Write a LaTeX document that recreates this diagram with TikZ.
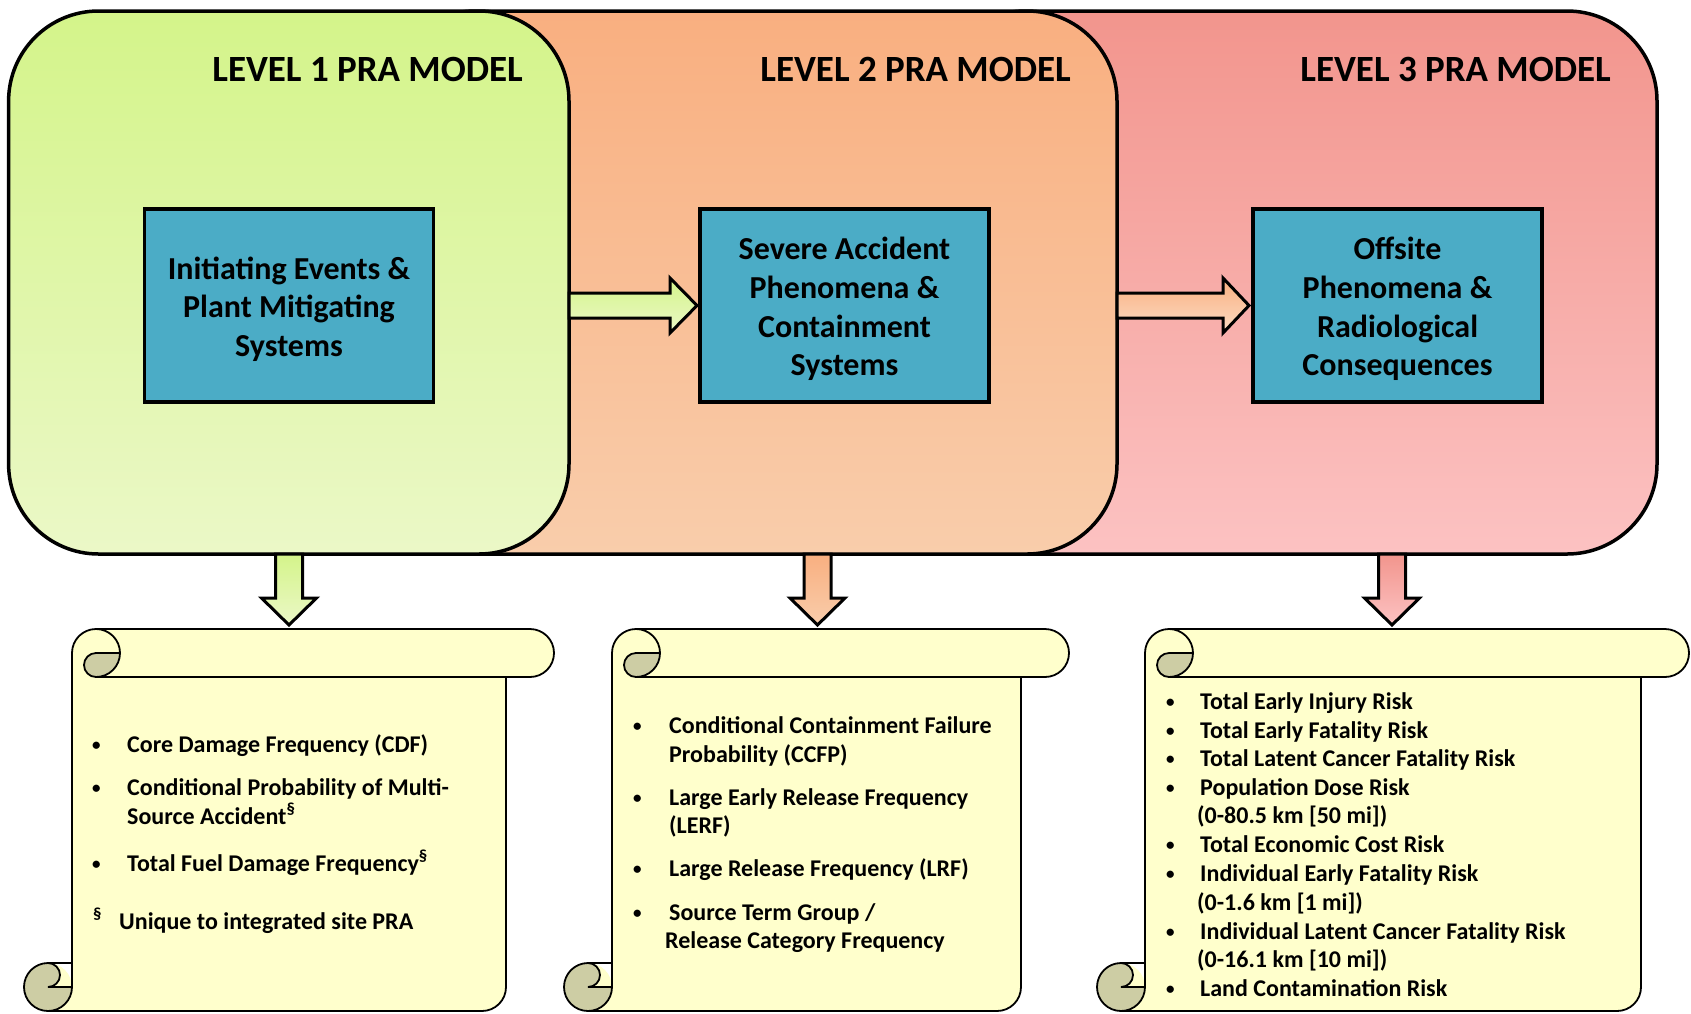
\documentclass[tikz,border=0pt]{standalone}
\usepackage{fontspec}
\setmainfont{Carlito}
\usetikzlibrary{calc}
\definecolor{greenTop}{HTML}{D4F48A}
\definecolor{greenBot}{HTML}{EBF8C7}
\definecolor{orangeTop}{HTML}{F9AF80}
\definecolor{orangeBot}{HTML}{F9CDAB}
\definecolor{redTop}{HTML}{F2958D}
\definecolor{redBot}{HTML}{FCC2C2}
\definecolor{boxblue}{HTML}{4BACC6}
\definecolor{scrollfill}{HTML}{FFFFCC}
\definecolor{scrolldark}{HTML}{CDCDA4}
\newcommand\drawscroll[2]{%
 \pgfmathsetmacro\scA{#1+24}%
 \pgfmathsetmacro\scB{#1+48}%
 \pgfmathsetmacro\scC{#1+72}%
 \pgfmathsetmacro\scD{#1+96}%
 \pgfmathsetmacro\scF{#2-48}%
 \pgfmathsetmacro\scG{#2-24}%
 \fill[scrollfill] (\scA,1011) arc[start angle=90, delta angle=-90, radius=24] -- (\scB,653) arc[start angle=180, delta angle=90, radius=24] -- (\scG,629) arc[start angle=270, delta angle=180, radius=24] -- (\scF,677) -- (\scF,987) arc[start angle=0, delta angle=90, radius=24] -- cycle;
 \fill[scrollfill] (\scA,987) circle[radius=24];
 \fill[scrolldark] (\scD,653) arc[start angle=0, delta angle=90, radius=24] arc[start angle=90, delta angle=180, radius=12] -- cycle;
 \fill[scrolldark] (\scB,987) arc[start angle=0, delta angle=270, radius=24] arc[start angle=270, delta angle=180, radius=12] -- cycle;
 \draw[scrollline] (\scB,963) -- (\scB,653) arc[start angle=180, delta angle=90, radius=24] -- (\scG,629) arc[start angle=270, delta angle=180, radius=24] -- (\scF,677) -- (\scF,987) arc[start angle=0, delta angle=90, radius=24] -- (\scA,1011) arc[start angle=90, delta angle=180, radius=24] -- cycle;
 \draw[scrollline] (\scC,629) arc[start angle=270, delta angle=180, radius=24] arc[start angle=90, delta angle=180, radius=12] -- (\scD,653);
 \draw[scrollline] (\scF,677) -- (\scC,677);
 \draw[scrollline] (\scA,963) arc[start angle=270, delta angle=180, radius=12] -- (\scB,987);
 \draw[scrollline] (\scA,1011) arc[start angle=90, delta angle=-90, radius=24] -- (\scB,963);
}
\begin{document}
\begin{tikzpicture}[x=1pt,y=1pt,yscale=-1,
  lvl/.style={draw=black, line width=3.5pt, rounded corners=90pt, inner sep=0pt, outer sep=0pt, minimum height=543pt},
  bluebox/.style={draw=black, line width=3.5pt, fill=boxblue, inner sep=0pt, minimum width=289pt, minimum height=193pt},
  bluetext/.style={inner sep=0pt, align=center, font=\fontsize{32}{38.7}\selectfont\bfseries},
  title/.style={anchor=east, inner sep=0pt, font=\fontsize{37}{44}\selectfont\bfseries},
  blockarrow/.style={draw=black, line width=3pt, line join=miter},
  scrollline/.style={draw=black, line width=1.8pt},
  sctext/.style={anchor=base west, inner sep=0pt, font=\fontsize{24}{29}\selectfont\bfseries},
  bul/.style={anchor=base west, inner sep=0pt, font=\fontsize{17}{20}\selectfont\bfseries},
]
\useasboundingbox (0,0) rectangle (1691,1013);
\fill[white] (0,0) rectangle (1691,1013);

% level boxes
\node[lvl, minimum width=722pt, top color=redTop, bottom color=redBot] (L3) at (1296,282.5) {};
\node[lvl, minimum width=732pt, top color=orangeTop, bottom color=orangeBot] (L2) at (751,282.5) {};
\node[lvl, minimum width=560.4pt, top color=greenTop, bottom color=greenBot] (L1) at (288.8,282.5) {};

\node[title] (t1) at (523,69) {LEVEL 1 PRA MODEL};
\node[title] (t2) at (1071,69) {LEVEL 2 PRA MODEL};
\node[title] (t3) at (1611,69) {LEVEL 3 PRA MODEL};

% horizontal block arrows
\draw[blockarrow, top color=greenTop, bottom color=greenBot] (569,293) -- (670,293) -- (670,278) -- (697,305.5) -- (670,333) -- (670,318) -- (569,318) -- cycle;
\draw[blockarrow, top color=orangeTop, bottom color=orangeBot!70!white] (1117,293) -- (1223,293) -- (1223,278) -- (1249,305.5) -- (1223,333) -- (1223,318) -- (1117,318) -- cycle;

% blue boxes
\node[bluebox] (b1) at (289,305.5) {};
\node[bluebox] (b2) at (844.5,305.5) {};
\node[bluebox] (b3) at (1397.5,305.5) {};
\node[bluetext] (b1t) at ($(b1.center)+(0,3.5)$) {Initiating Events \&\\Plant Mitigating\\Systems};
\node[bluetext] (b2t) at ($(b2.center)+(0,3.5)$) {Severe Accident\\Phenomena \&\\Containment\\Systems};
\node[bluetext] (b3t) at ($(b3.center)+(0,3.5)$) {Offsite\\Phenomena \&\\Radiological\\Consequences};

% down block arrows
\draw[blockarrow, top color=greenTop, bottom color=greenBot] (275.5,554) -- (275.5,598) -- (261.5,598) -- (289,625) -- (316.5,598) -- (302.5,598) -- (302.5,554) -- cycle;
\draw[blockarrow, top color=orangeTop, bottom color=orangeBot] (804,554) -- (804,598) -- (790,598) -- (817.5,625) -- (845,598) -- (831,598) -- (831,554) -- cycle;
\draw[blockarrow, top color=redTop, bottom color=redBot] (1378.5,554) -- (1378.5,598) -- (1364.5,598) -- (1392,625) -- (1419.5,598) -- (1405.5,598) -- (1405.5,554) -- cycle;

% scrolls
\drawscroll{24}{554}
\drawscroll{564}{1069}
\drawscroll{1097}{1689}

% scroll 1 text
\node[bul] (s1b1) at (92,750) {•};
\node[sctext] (s1a) at (127,752) {Core Damage Frequency (CDF)};
\node[bul] (s1b2) at (92,793) {•};
\node[sctext] (s1b) at (127,795) {Conditional Probability of Multi-};
\node[sctext] (s1c) at (127,824) {Source Accident\textsuperscript{§}};
\node[bul] (s1b3) at (92,869) {•};
\node[sctext] (s1d) at (127,871) {Total Fuel Damage Frequency\textsuperscript{§}};
\node[sctext] (s1e) at (93,929) {\textsuperscript{§}};
\node[sctext] (s1f) at (119,929) {Unique to integrated site PRA};

% scroll 2 text
\node[bul] (s2b1) at (633,731) {•};
\node[sctext] (s2a) at (669,733) {Conditional Containment Failure};
\node[sctext] (s2b) at (669,762) {Probability (CCFP)};
\node[bul] (s2b2) at (633,803) {•};
\node[sctext] (s2c) at (669,805) {Large Early Release Frequency};
\node[sctext] (s2d) at (669,833) {(LERF)};
\node[bul] (s2b3) at (633,874) {•};
\node[sctext] (s2e) at (669,876) {Large Release Frequency (LRF)};
\node[bul] (s2b4) at (633,918) {•};
\node[sctext] (s2f) at (669,920) {Source Term Group /};
\node[sctext] (s2g) at (665,948) {Release Category Frequency};

% scroll 3 text
\node[bul] (s3b1) at (1166,707) {•};
\node[sctext] (s3a) at (1200,709) {Total Early Injury Risk};
\node[bul] (s3b2) at (1166,736) {•};
\node[sctext] (s3b) at (1200,738) {Total Early Fatality Risk};
\node[bul] (s3b3) at (1166,764) {•};
\node[sctext] (s3c) at (1200,766) {Total Latent Cancer Fatality Risk};
\node[bul] (s3b4) at (1166,793) {•};
\node[sctext] (s3d) at (1200,795) {Population Dose Risk};
\node[sctext] (s3e) at (1197,823) {(0-80.5 km [50 mi])};
\node[bul] (s3b5) at (1166,850) {•};
\node[sctext] (s3f) at (1200,852) {Total Economic Cost Risk};
\node[bul] (s3b6) at (1166,879) {•};
\node[sctext] (s3g) at (1200,881) {Individual Early Fatality Risk};
\node[sctext] (s3h) at (1197,910) {(0-1.6 km [1 mi])};
\node[bul] (s3b7) at (1166,937) {•};
\node[sctext] (s3i) at (1200,939) {Individual Latent Cancer Fatality Risk};
\node[sctext] (s3j) at (1197,967) {(0-16.1 km [10 mi])};
\node[bul] (s3b8) at (1166,994) {•};
\node[sctext] (s3k) at (1200,996) {Land Contamination Risk};
\end{tikzpicture}
\end{document}
